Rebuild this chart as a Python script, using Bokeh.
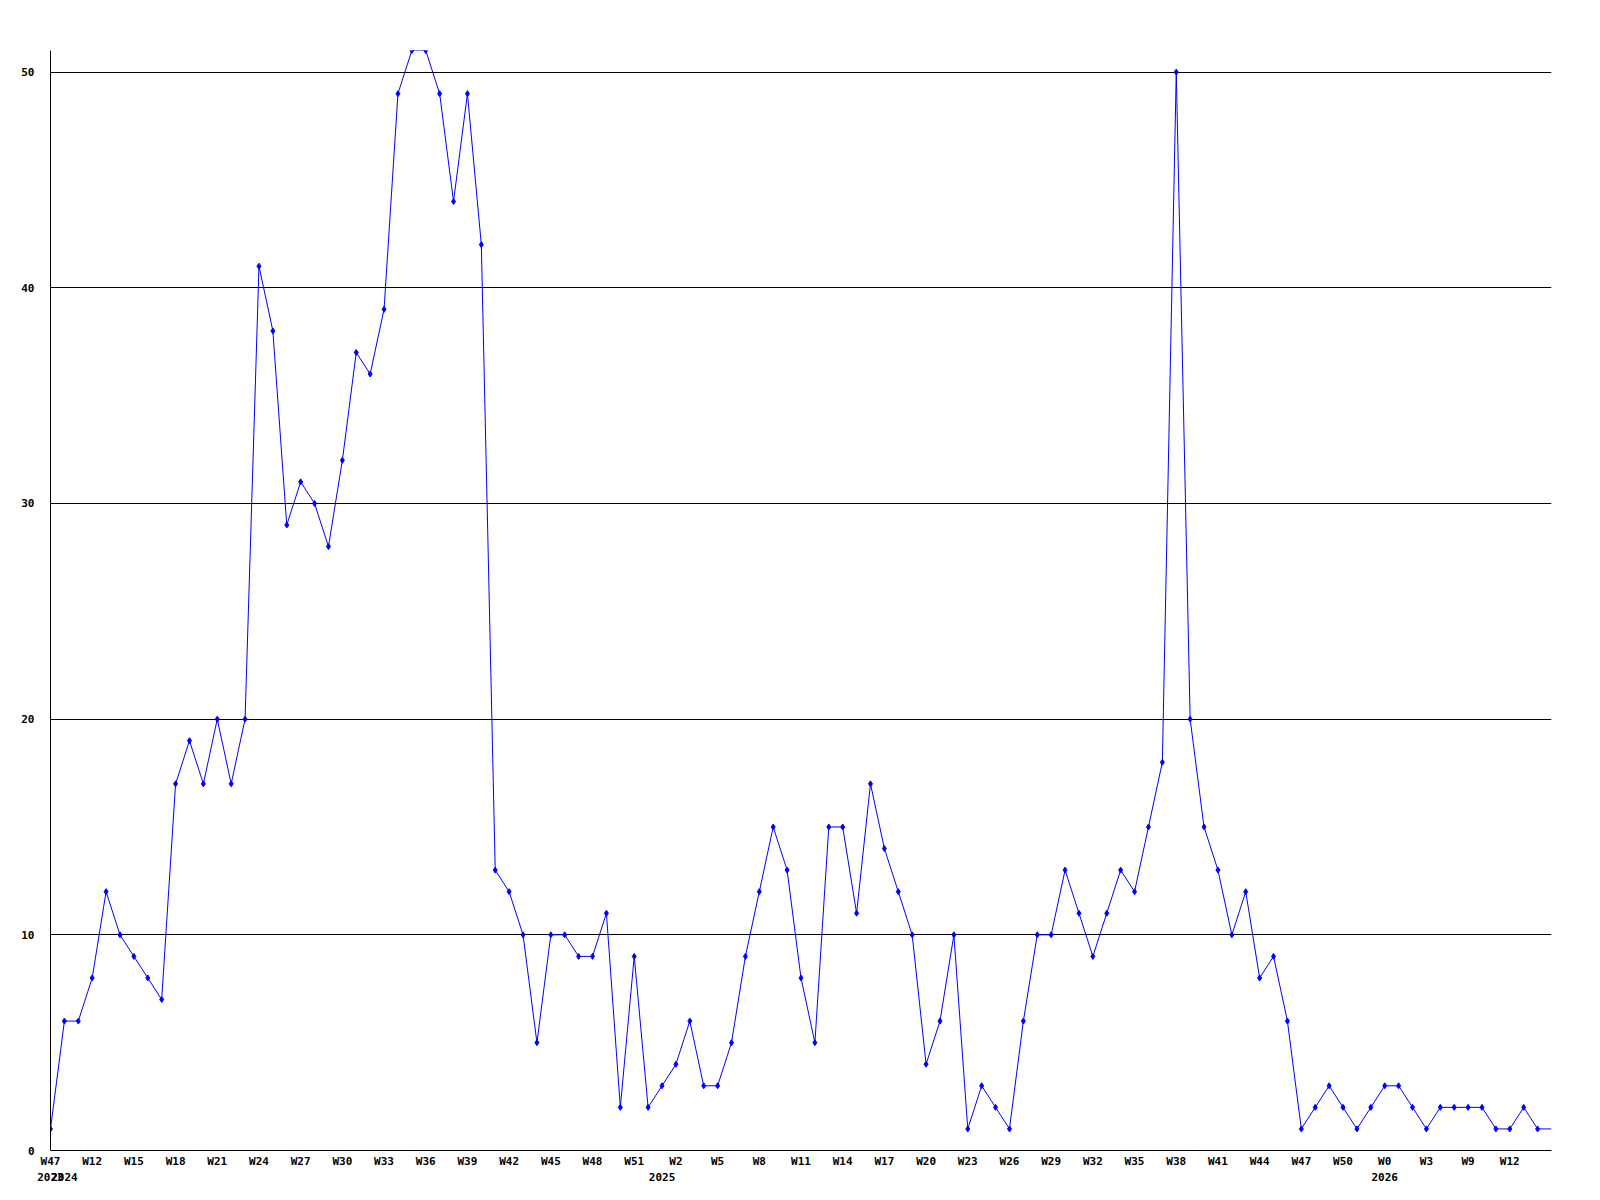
from bokeh.plotting import figure
from bokeh.models import Range1d, FixedTicker, LinearAxis, ColumnDataSource
from bokeh.embed import file_html
from bokeh.resources import INLINE

# weekly counts, one per data point (index order)
counts = [1, 6, 6, 8, 12, 10, 9, 8, 7, 17,
          19, 17, 20, 17, 20, 41, 38, 29, 31, 30,
          28, 32, 37, 36, 39, 49, 51, 51, 49, 44,
          49, 42, 13, 12, 10, 5, 10, 10, 9, 9,
          11, 2, 9, 2, 3, 4, 6, 3, 3, 5,
          9, 12, 15, 13, 8, 5, 15, 15, 11, 17,
          14, 12, 10, 4, 6, 10, 1, 3, 2, 1,
          6, 10, 10, 13, 11, 9, 11, 13, 12, 15,
          18, 50, 20, 15, 13, 10, 12, 8, 9, 6,
          1, 2, 3, 2, 1, 2, 3, 3, 2, 1,
          2, 2, 2, 2, 1, 1, 2, 1, 1]

# week labels shown on every third point
week_labels = ["W47", "W12", "W15", "W18", "W21", "W24", "W27", "W30", "W33",
               "W36", "W39", "W42", "W45", "W48", "W51", "W2", "W5", "W8",
               "W11", "W14", "W17", "W20", "W23", "W26", "W29", "W32", "W35",
               "W38", "W41", "W44", "W47", "W50", "W0", "W3", "W9", "W12"]
label_step = 3

# year labels and the index of the first point of each year
year_labels = ["2023", "2024", "2025", "2026"]
year_start_index = [0, 1, 44, 96]

y_ticks = [0, 10, 20, 30, 40, 50]
y_max = 51

x = list(range(len(counts)))
src = ColumnDataSource(dict(x=x, y=counts))
mk_src = ColumnDataSource(dict(x=x[:-1], y=counts[:-1]))

FONT = "DejaVu Sans Mono"
FSIZE = "11px"

p = figure(output_backend="svg", toolbar_location=None,
           frame_width=1501, frame_height=1100,
           min_border_left=50, min_border_top=50,
           min_border_right=30, min_border_bottom=42,
           x_range=Range1d(0, len(counts) - 1), y_range=Range1d(0, y_max),
           background_fill_color="white", border_fill_color="white")
p.outline_line_color = None

p.line("x", "y", source=src, line_color="#0000ff", line_width=1)
p.scatter("x", "y", source=mk_src, marker="diamond", size=6,
          fill_color="#0000ff", line_color="#0000ff", line_width=1)

# y axis
ya = p.yaxis[0]
ya.ticker = FixedTicker(ticks=y_ticks)
ya.major_tick_out = 0
ya.major_tick_in = 0
ya.minor_tick_out = 0
ya.minor_tick_in = 0
ya.major_label_standoff = 16
ya.major_label_text_font = FONT
ya.major_label_text_font_style = "bold"
ya.major_label_text_font_size = FSIZE
ya.major_label_text_color = "black"
ya.axis_line_color = "black"

# x axis (weeks)
tick_idx = list(range(0, len(counts), label_step))[:len(week_labels)]
xa = p.xaxis[0]
xa.ticker = FixedTicker(ticks=tick_idx)
xa.major_label_overrides = {i: lab for i, lab in zip(tick_idx, week_labels)}
xa.major_tick_out = 0
xa.major_tick_in = 0
xa.minor_tick_out = 0
xa.minor_tick_in = 0
xa.major_label_standoff = 4
xa.major_label_text_font = FONT
xa.major_label_text_font_style = "bold"
xa.major_label_text_font_size = FSIZE
xa.major_label_text_color = "black"
xa.axis_line_color = "black"

# second x axis (years)
ya2 = LinearAxis(ticker=FixedTicker(ticks=year_start_index),
                 major_label_overrides={i: lab for i, lab in zip(year_start_index, year_labels)})
ya2.axis_line_color = None
ya2.major_tick_out = 0
ya2.major_tick_in = 0
ya2.minor_tick_out = 0
ya2.minor_tick_in = 0
ya2.major_label_standoff = 2
ya2.major_label_text_font = FONT
ya2.major_label_text_font_style = "bold"
ya2.major_label_text_font_size = FSIZE
ya2.major_label_text_color = "black"
p.add_layout(ya2, "below")

# grid
p.xgrid.grid_line_color = None
p.ygrid.ticker = FixedTicker(ticks=y_ticks)
p.ygrid.grid_line_color = "black"
p.ygrid.grid_line_width = 1
p.ygrid.grid_line_alpha = 1.0

open("out.html", "w").write(file_html(p, INLINE))
